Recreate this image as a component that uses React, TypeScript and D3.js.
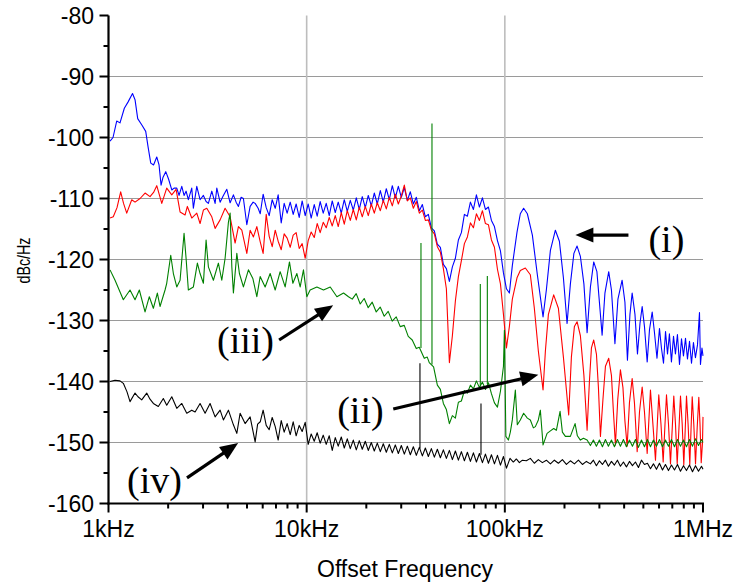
import React from 'react';
import * as d3 from 'd3';

const W = 736;
const H = 588;

// axis tick values
const xTickKHz = [1, 10, 100, 1000];
const xTickLabels = ['1kHz', '10kHz', '100kHz', '1MHz'];
const xGridKHz = [10, 100];
const yTicks = [-160, -150, -140, -130, -120, -110, -100, -90, -80];
const yGrid = [-150, -140, -130, -120, -110, -100, -90];
const yMinor = [-155, -145, -135, -125, -115, -105, -95, -85];
const xMinorMult = [2, 3, 4, 5, 6, 7, 8, 9];
const xDecades = [1, 10, 100];

// shared frequency grid (kHz) of the dense, noisy part 5.8k..100k
const gridKHz = [
  5.83, 6.03, 6.25, 6.47, 6.70, 6.94, 7.18, 7.44, 7.70, 7.97,
  8.26, 8.55, 8.85, 9.17, 9.49, 9.83, 10.18, 10.54, 10.92, 11.30,
  11.70, 12.12, 12.55, 13.00, 13.46, 13.94, 14.43, 14.95, 15.48, 16.03,
  16.60, 17.19, 17.80, 18.43, 19.08, 19.76, 20.46, 21.19, 21.94, 22.72,
  23.53, 24.36, 25.23, 26.12, 27.05, 28.01, 29.01, 30.04, 31.10, 32.21,
  33.35, 34.54, 35.76, 37.03, 38.35, 39.71, 41.12, 42.58, 44.09, 45.66,
  47.28, 48.96, 50.70, 52.50, 54.36, 56.29, 58.29, 60.36, 62.51, 64.73,
  67.03, 69.41, 71.87, 74.42, 77.07, 79.81, 82.64, 85.58, 88.62, 91.77,
  95.03, 98.41, 101.9,
];

// ---- series (i) blue ----
const bluePre = [
  [1.018, -100.6], [1.054, -100.0], [1.100, -97.3], [1.143, -97.6], [1.202, -95.2], [1.254, -94.2],
  [1.322, -92.8], [1.361, -93.8], [1.404, -96.9], [1.476, -98.0], [1.541, -99.0], [1.583, -101.5],
  [1.634, -104.2], [1.688, -104.5], [1.752, -103.2], [1.799, -104.5], [1.842, -107.8], [1.885, -106.5],
  [1.945, -105.6], [2.009, -106.8], [2.086, -108.6], [2.142, -108.3], [2.211, -108.3], [2.270, -109.5],
  [2.343, -108.0], [2.406, -109.5], [2.463, -108.8], [2.529, -110.2], [2.631, -108.3], [2.681, -111.6],
  [2.789, -108.0], [2.898, -110.2], [3.012, -109.5], [3.108, -110.5], [3.192, -110.8], [3.321, -108.8],
  [3.451, -110.8], [3.520, -108.3], [3.658, -110.6], [3.788, -109.6], [3.954, -108.5], [4.109, -110.7],
  [4.269, -109.4], [4.405, -110.6], [4.525, -111.3], [4.669, -109.8], [4.795, -110.0], [4.989, -114.3],
  [5.184, -111.3], [5.368, -110.6], [5.495, -110.8], [5.690, -111.6],
];
const blueDense = [
  -112.5, -109.3, -111.5, -112.8, -110.2, -111.6, -109.4, -114.0, -110.8, -112.4,
  -110.6, -112.6, -110.9, -113.1, -110.4, -112.8, -110.9, -113.2, -111.0, -112.9,
  -110.5, -112.4, -110.8, -112.8, -110.4, -112.3, -110.6, -112.4, -110.2, -112.1,
  -110.3, -111.9, -109.9, -111.8, -109.7, -111.5, -109.5, -111.2, -109.1, -110.9,
  -108.7, -110.6, -108.4, -110.2, -107.9, -109.9, -108.0, -109.8, -108.2, -110.3,
  -108.9, -110.9, -109.8, -112.0, -111.0, -113.0, -112.6, -114.8, -115.3, -117.5,
  -118.0, -120.8, -121.5, -123.6, -121.2, -119.8, -116.8, -115.6, -112.6, -112.9,
  -110.6, -111.8, -109.4, -111.4, -109.9, -111.8, -111.4, -113.6, -114.6, -116.9,
  -118.6, -122.2, -124.8,
];
const bluePost = [
  [105.4, -125.5], [109.1, -121.0], [115.2, -115.5], [119.7, -112.5], [124.4, -111.6], [129.9, -112.5],
  [137.7, -116.0], [145.9, -122.5], [155.9, -129.4], [162.0, -125.0], [169.8, -118.5], [179.9, -115.2],
  [188.5, -117.0], [197.5, -123.0], [206.1, -130.5], [214.2, -124.0], [223.1, -119.0], [231.5, -117.8],
  [240.6, -119.5], [250.6, -124.0], [260.1, -132.0], [270.3, -124.5], [280.9, -120.4], [291.5, -122.0],
  [300.1, -127.0], [309.7, -132.4], [320.0, -125.5], [334.4, -122.0], [345.1, -125.0], [359.4, -133.8],
  [372.2, -126.5], [390.7, -123.4], [403.7, -127.0], [415.6, -136.5], [427.9, -129.0], [439.0, -125.5],
  [453.6, -129.0], [467.0, -135.5], [480.8, -130.5], [493.2, -127.7], [506.6, -131.0], [522.8, -136.8],
  [537.0, -131.5], [554.1, -128.6], [569.1, -132.0], [585.9, -136.2], [603, -131.3], [617, -134.5],
  [632, -137.0], [647, -131.8], [662, -135.5], [677, -132.2], [693, -136.8], [710, -132.6], [726, -135.5],
  [743, -132.3], [761, -137.2], [779, -133.0], [797, -135.8], [816, -132.9], [835, -136.3], [855, -133.4],
  [875, -137.0], [895, -133.6], [916, -136.1], [938, -134.0], [960, -128.7], [971, -137.2], [988, -134.5],
  [1000, -135.8],
];

// ---- series (ii) red ----
const redPre = [
  [1.018, -113.2], [1.057, -113.0], [1.104, -111.5], [1.152, -108.9], [1.191, -110.8], [1.236, -112.4],
  [1.310, -110.2], [1.361, -110.6], [1.443, -110.0], [1.529, -109.1], [1.620, -109.7], [1.688, -109.0],
  [1.752, -107.9], [1.857, -110.8], [1.967, -108.3], [2.086, -109.4], [2.193, -108.5], [2.297, -112.2],
  [2.435, -112.7], [2.500, -111.3], [2.631, -113.2], [2.789, -112.4], [2.898, -114.1], [3.012, -111.9],
  [3.133, -111.6], [3.321, -113.0], [3.451, -114.9], [3.658, -113.5], [3.876, -111.6], [4.109, -113.0],
  [4.354, -117.3], [4.525, -114.6], [4.707, -115.2], [4.989, -119.0], [5.184, -115.2], [5.387, -116.3],
  [5.604, -114.6],
];
const redDense = [
  -117.1, -119.0, -112.6, -116.2, -117.9, -115.2, -117.0, -118.4, -115.8, -116.5,
  -118.0, -116.0, -115.6, -118.2, -117.4, -119.8, -116.9, -115.5, -116.4, -114.1,
  -115.6, -113.9, -114.8, -113.1, -114.5, -112.8, -114.6, -112.3, -114.2, -112.0,
  -113.6, -111.8, -113.5, -111.4, -113.0, -111.3, -112.8, -110.9, -112.4, -110.7,
  -112.0, -110.3, -111.7, -109.8, -111.2, -109.3, -110.9, -109.6, -107.8, -110.4,
  -109.9, -111.6, -110.5, -112.4, -111.9, -113.6, -113.5, -115.2, -115.8, -117.9,
  -118.8, -121.5, -124.8, -136.9, -132.5, -126.8, -122.8, -120.2, -117.4, -116.3,
  -114.0, -114.8, -112.5, -113.6, -112.0, -114.1, -114.3, -116.8, -118.0, -121.6,
  -124.0, -129.0, -134.5,
];
const redPost = [
  [105.4, -131.0], [109.1, -126.5], [115.2, -123.0], [119.7, -121.8], [126.9, -121.4], [134.5, -122.5],
  [140.9, -128.0], [147.6, -135.0], [155.9, -141.4], [160.2, -135.0], [165.9, -129.0], [176.4, -125.8],
  [186.3, -128.0], [197.5, -136.0], [210.0, -145.5], [216.7, -136.0], [224.4, -131.0], [231.5, -130.2],
  [240.6, -132.5], [250.6, -139.0], [260.1, -148.0], [267.2, -140.0], [273.5, -134.5], [280.9, -133.2],
  [289.9, -135.5], [296.7, -141.0], [303.7, -149.0], [312.6, -143.0], [321.9, -137.5], [334.4, -136.2],
  [345.1, -139.0], [353.2, -145.0], [361.5, -150.4], [371.3, -143.0], [383.1, -138.1], [394.5, -141.0],
  [403.7, -146.5], [414.2, -150.6], [425.4, -143.5], [439.0, -139.5], [450.9, -143.5], [465.4, -151.5],
  [478.1, -145.0], [493.2, -140.9], [506.6, -145.0], [522.8, -151.8], [533.8, -146.0], [543.1, -141.4],
  [556.0, -146.0], [575.7, -152.9], [587.9, -147.0], [598.2, -142.2], [613.7, -147.0], [629.6, -153.2],
  [643.0, -147.0], [654.3, -142.2], [669.7, -147.0], [685.4, -153.5], [699.8, -147.5], [712.2, -142.4],
  [726.4, -147.0], [740.9, -153.5], [756.6, -147.5], [769.9, -142.4], [785.3, -147.0], [800.0, -153.7],
  [813.1, -148.0], [825.5, -142.4], [841.0, -147.0], [857.8, -153.6], [869.9, -148.0], [882.2, -142.5],
  [898.6, -147.0], [916.6, -153.5], [934.9, -147.5], [952.5, -142.6], [965.8, -147.0], [979.4, -153.3],
  [994.2, -150.0], [1000, -145.8],
];

// ---- series (iii) green ----
const greenLow = [
  [1.018, -121.7], [1.079, -123.4], [1.188, -126.6], [1.284, -125.0], [1.361, -126.6], [1.431, -125.0],
  [1.529, -128.6], [1.607, -126.1], [1.684, -128.0], [1.764, -125.5], [1.820, -127.7], [1.929, -125.0],
  [1.967, -123.9], [2.061, -119.3], [2.125, -122.3], [2.211, -124.5], [2.297, -123.4], [2.406, -115.7],
  [2.463, -119.8], [2.529, -125.0], [2.681, -124.5], [2.809, -120.6], [2.898, -122.3], [3.012, -123.9],
  [3.108, -116.8], [3.192, -121.2], [3.383, -123.4], [3.585, -120.6], [3.730, -123.4], [3.876, -119.8],
  [4.028, -113.9], [4.109, -112.4], [4.191, -121.2], [4.269, -125.5], [4.442, -119.0], [4.577, -122.3],
  [4.795, -124.5], [5.083, -121.7], [5.350, -123.1], [5.604, -126.1], [5.825, -122.8], [6.172, -124.5],
  [6.543, -122.3], [6.935, -125.0], [7.349, -122.0], [7.789, -124.5], [8.188, -120.4], [8.519, -123.9],
  [8.925, -122.3], [9.273, -124.5], [9.634, -121.7], [10.02, -126.1], [10.41, -125.0], [11.26, -124.5],
  [12.16, -125.0], [13.15, -124.5], [14.21, -126.1], [15.35, -125.5], [16.26, -126.1],
];
const greenMid = [
  [16.98, -126.5], [17.78, -125.6], [18.63, -127.3], [19.51, -126.4], [20.44, -127.9], [21.42, -127.0],
  [22.44, -128.6], [23.50, -127.8], [24.62, -129.3], [25.79, -128.5], [27.02, -130.1], [28.31, -129.4],
  [29.66, -131.0], [31.07, -130.8], [32.55, -132.6], [34.10, -133.2], [35.73, -134.6], [37.00, -134.4],
  [39.21, -136.2], [40.60, -136.0], [41.56, -136.9], [43.70, -137.6], [45.66, -140.6], [47.28, -141.3],
  [48.96, -143.6], [50.70, -144.6], [52.50, -146.9], [54.36, -145.6], [56.29, -146.0], [58.29, -143.4],
  [60.36, -143.2], [62.51, -141.5], [64.73, -141.9], [67.03, -140.6], [69.41, -141.2], [71.87, -139.9],
  [74.42, -141.0], [77.07, -140.1], [79.81, -141.3], [82.64, -140.2], [85.58, -142.0], [88.62, -143.5],
  [91.77, -144.2], [95.03, -141.6], [98.41, -137.5], [99.5, -131.6],
];
const greenHigh = [
  [101.2, -149.0], [104.2, -149.6], [106.6, -148.3], [109.1, -146.3], [113.0, -141.4], [115.6, -147.1],
  [119.7, -146.3], [124.4, -145.2], [129.9, -146.0], [134.5, -146.3], [139.3, -147.6], [142.6, -147.4],
  [147.6, -146.3], [151.1, -144.7], [155.9, -150.4], [163.4, -148.5], [169.8, -148.1], [176.4, -147.7],
  [182.0, -148.0], [190.0, -144.9], [195.2, -148.3], [202.1, -149.0], [214.2, -149.0], [226.2, -146.9],
  [232.3, -148.9], [240.6, -149.6], [249.2, -149.3], [260.1, -149.6],
  [270.3, -150.5], [279.9, -149.6], [289.8, -150.6], [300.1, -149.6], [310.8, -150.7], [321.8, -149.5],
  [333.2, -150.6], [345.1, -149.6], [357.3, -150.7], [370.0, -149.5], [383.1, -150.6], [396.7, -149.5],
  [410.8, -150.7], [425.4, -149.6], [440.5, -150.6], [456.1, -149.5], [472.3, -150.8], [489.1, -149.6],
  [506.5, -150.7], [524.4, -149.5], [543.1, -150.7], [562.3, -149.6], [582.3, -150.6], [603.0, -149.5],
  [624.4, -150.7], [646.5, -149.6], [669.5, -150.6], [693.2, -149.5], [717.9, -150.7], [743.4, -149.5],
  [769.7, -150.6], [797.1, -149.6], [825.4, -150.7], [854.7, -149.5], [885.0, -150.6], [916.5, -149.4],
  [949.0, -150.5], [982.7, -149.5], [1000, -150.0],
];
// [kHz, base dB, top dB]
const greenSpikes = [
  [37.74, -134.5, -117.3], [42.89, -137.2, -97.7], [75.2, -140.8, -124.0], [81.6, -140.4, -122.7],
];

// ---- series (iv) black ----
const blackPre = [
  [1.018, -140.0], [1.079, -139.8], [1.143, -139.9], [1.188, -140.3], [1.240, -141.7], [1.284, -143.3],
  [1.361, -141.9], [1.409, -142.5], [1.471, -143.0], [1.559, -141.9], [1.620, -142.9], [1.684, -143.6],
  [1.784, -144.1], [1.891, -142.8], [1.967, -143.9], [2.086, -142.5], [2.211, -144.4], [2.343, -143.6],
  [2.483, -145.2], [2.631, -144.7], [2.735, -145.0], [2.898, -143.6], [3.072, -145.2], [3.255, -143.6],
  [3.451, -145.8], [3.658, -144.7], [3.800, -146.3], [4.028, -144.7], [4.269, -147.1], [4.442, -148.5],
  [4.614, -145.2], [4.891, -146.9], [5.184, -145.8], [5.495, -149.9], [5.656, -147.0],
];
const blackDense = [
  -146.6, -144.7, -147.2, -147.9, -145.9, -147.4, -149.6, -146.4, -148.3, -146.9,
  -148.7, -146.6, -148.9, -147.2, -148.2, -146.7, -150.3, -148.6, -149.8, -148.4,
  -150.1, -148.8, -150.3, -148.9, -151.3, -149.2, -150.6, -149.1, -150.9, -149.4,
  -151.0, -149.6, -151.2, -149.7, -151.1, -149.8, -151.3, -150.0, -151.4, -150.1,
  -151.5, -150.2, -151.6, -150.3, -151.7, -150.4, -151.8, -150.5, -151.9, -150.6,
  -152.0, -150.7, -152.1, -150.8, -152.2, -150.9, -152.3, -151.0, -152.4, -151.1,
  -152.5, -151.2, -152.6, -151.3, -152.8, -151.4, -152.9, -151.5, -153.0, -151.6,
  -153.1, -151.7, -153.2, -151.8, -153.3, -151.9, -153.4, -152.0, -153.5, -152.1,
  -153.7, -152.3, -154.2,
];
const blackPost = [
  [106.2, -152.6], [110.4, -153.2], [114.3, -152.7], [118.4, -153.3], [122.6, -152.9], [128.4, -153.0],
  [134.5, -152.6], [140.9, -153.4], [147.6, -152.8], [154.7, -153.3], [162.0, -152.9], [169.8, -153.5],
  [177.8, -152.9], [186.3, -153.4], [195.2, -152.8], [204.5, -153.6], [214.2, -153.0], [224.4, -153.5],
  [235.1, -152.9], [246.3, -153.6], [258.0, -153.1],
  [270.3, -153.5], [279.9, -152.9], [289.8, -153.8], [300.1, -153.0], [310.8, -153.6], [321.8, -152.9],
  [333.2, -153.9], [345.1, -153.1], [357.3, -153.7], [370.0, -152.9], [383.1, -153.9], [396.7, -153.2],
  [410.8, -154.0], [425.4, -153.1], [440.5, -153.8], [456.1, -153.2], [472.3, -154.1], [489.1, -152.9],
  [506.5, -153.6], [524.4, -153.4], [543.1, -154.3], [562.3, -153.5], [582.3, -154.4], [603.0, -153.4],
  [624.4, -154.5], [646.5, -153.6], [669.5, -154.6], [693.2, -153.7], [717.9, -154.5], [743.4, -153.6],
  [769.7, -154.7], [797.1, -153.8], [825.4, -154.6], [854.7, -153.7], [885.0, -154.8], [916.5, -153.8],
  [949.0, -154.7], [982.7, -153.9], [1000, -154.4],
];
const blackSpikes = [
  [37.30, -151.0, -137.0], [75.8, -152.0, -143.6],
];

// annotations: label, text anchor point (kHz, dB), arrow from/to (kHz, dB)
const annotations = [
  { label: '(i)', at: [530.6, -118.8], from: [420.5, -116.0], to: [227, -116.0] },
  { label: '(ii)', at: [14.26, -146.8], from: [27.35, -144.5], to: [147.6, -138.9] },
  { label: '(iii)', at: [3.53, -135.4], from: [7.26, -133.2], to: [13.6, -127.5] },
  { label: '(iv)', at: [1.24, -158.3], from: [2.49, -155.8], to: [4.51, -150.1] },
];

const SANS = '"Liberation Sans", Arial, Helvetica, sans-serif';
const SERIF = '"Liberation Serif", "Times New Roman", Times, serif';

const zipDense = (vals: number[]) => gridKHz.map((f, i) => [f, vals[i]]);

export default function App() {
  const x = d3.scaleLog().domain([1, 1000]).range([108.5, 703]);
  const y = d3.scaleLinear().domain([-160, -80]).range([503.5, 15.5]);
  const line = d3
    .line<number[]>()
    .x((d) => x(d[0]))
    .y((d) => y(d[1]));

  const blue = [...bluePre, ...zipDense(blueDense), ...bluePost];
  const red = [...redPre, ...zipDense(redDense), ...redPost];
  const green = [...greenLow, ...greenMid, ...greenHigh];
  const black = [...blackPre, ...zipDense(blackDense), ...blackPost];

  const series = [
    { data: blue, color: '#0000ff', spikes: [] as number[][] },
    { data: red, color: '#ff0000', spikes: [] as number[][] },
    { data: green, color: '#008000', spikes: greenSpikes },
    { data: black, color: '#000000', spikes: blackSpikes },
  ];

  const x0 = x(1);
  const x1 = x(1000);
  const yb = y(-160);
  const yt = y(-80);

  const minorX: number[] = [];
  xDecades.forEach((d) => xMinorMult.forEach((m) => minorX.push(d * m)));

  const arrow = (a: any, i: number) => {
    const sx = x(a.from[0]);
    const sy = y(a.from[1]);
    const tx = x(a.to[0]);
    const ty = y(a.to[1]);
    const dx = tx - sx;
    const dy = ty - sy;
    const len = Math.hypot(dx, dy);
    const ux = dx / len;
    const uy = dy / len;
    const L = 18;
    const hw = 7.5;
    const bx = tx - ux * L;
    const by = ty - uy * L;
    const pts = [
      [tx, ty],
      [bx - uy * hw, by + ux * hw],
      [bx + uy * hw, by - ux * hw],
    ];
    return (
      <g key={'ar' + i}>
        <line x1={sx} y1={sy} x2={bx + ux * 2} y2={by + uy * 2} stroke="#000" strokeWidth={3.2} />
        <polygon points={pts.map((p) => p.join(',')).join(' ')} fill="#000" />
        <text x={x(a.at[0])} y={y(a.at[1])} fontFamily={SERIF} fontSize={38} fill="#000">
          {a.label}
        </text>
      </g>
    );
  };

  return (
    <svg
      width={W}
      height={H}
      viewBox={`0 0 ${W} ${H}`}
      style={{ position: 'absolute', left: 0, top: 0, background: '#fff' }}
    >
      <rect x={0} y={0} width={W} height={H} fill="#fff" />
      {/* grid */}
      {yGrid.map((v) => (
        <line key={'gy' + v} x1={x0} x2={x1} y1={y(v)} y2={y(v)} stroke="#9a9a9a" strokeWidth={1.2} />
      ))}
      {xGridKHz.map((f) => (
        <line key={'gx' + f} x1={x(f)} x2={x(f)} y1={yt} y2={yb} stroke="#bdbdbd" strokeWidth={1.6} />
      ))}

      {/* series */}
      {series.map((s, i) => (
        <g key={'s' + i}>
          <path d={line(s.data) || ''} fill="none" stroke={s.color} strokeWidth={1.1} strokeLinejoin="round" />
          {s.spikes.map((sp, j) => (
            <line
              key={'sp' + j}
              x1={x(sp[0])}
              x2={x(sp[0])}
              y1={y(sp[1])}
              y2={y(sp[2])}
              stroke={s.color}
              strokeWidth={1.1}
            />
          ))}
        </g>
      ))}

      {/* axes */}
      <line x1={x0} x2={x0} y1={yt} y2={yb + 1} stroke="#000" strokeWidth={2.2} />
      <line x1={x0 - 1} x2={x1 + 1} y1={yb} y2={yb} stroke="#000" strokeWidth={2.2} />
      {yTicks.map((v) => (
        <g key={'yt' + v}>
          <line x1={x0 - 9} x2={x0} y1={y(v)} y2={y(v)} stroke="#000" strokeWidth={2} />
          <text
            x={94}
            y={y(v)}
            dy="0.35em"
            textAnchor="end"
            fontFamily={SANS}
            fontSize={23}
            fill="#000"
          >
            {v}
          </text>
        </g>
      ))}
      {yMinor.map((v) => (
        <line key={'ym' + v} x1={x0 - 5} x2={x0} y1={y(v)} y2={y(v)} stroke="#000" strokeWidth={2} />
      ))}
      {xTickKHz.map((f, i) => (
        <g key={'xt' + f}>
          <line x1={x(f)} x2={x(f)} y1={yb} y2={yb + 9} stroke="#000" strokeWidth={2} />
          <text x={x(f)} y={537} textAnchor="middle" fontFamily={SANS} fontSize={23} fill="#000">
            {xTickLabels[i]}
          </text>
        </g>
      ))}
      {minorX.map((f) => (
        <line key={'xm' + f} x1={x(f)} x2={x(f)} y1={yb} y2={yb + 5} stroke="#000" strokeWidth={2} />
      ))}

      {/* axis titles */}
      <text x={405} y={577} textAnchor="middle" fontFamily={SANS} fontSize={23} fill="#000">
        Offset Frequency
      </text>
      <text
        transform={`translate(30, ${y(-120) + 1}) rotate(-90)`}
        textAnchor="middle"
        fontFamily={SANS}
        fontSize={18}
        textLength={46}
        lengthAdjust="spacingAndGlyphs"
        fill="#000"
      >
        dBc/Hz
      </text>

      {/* annotations */}
      {annotations.map(arrow)}
    </svg>
  );
}
